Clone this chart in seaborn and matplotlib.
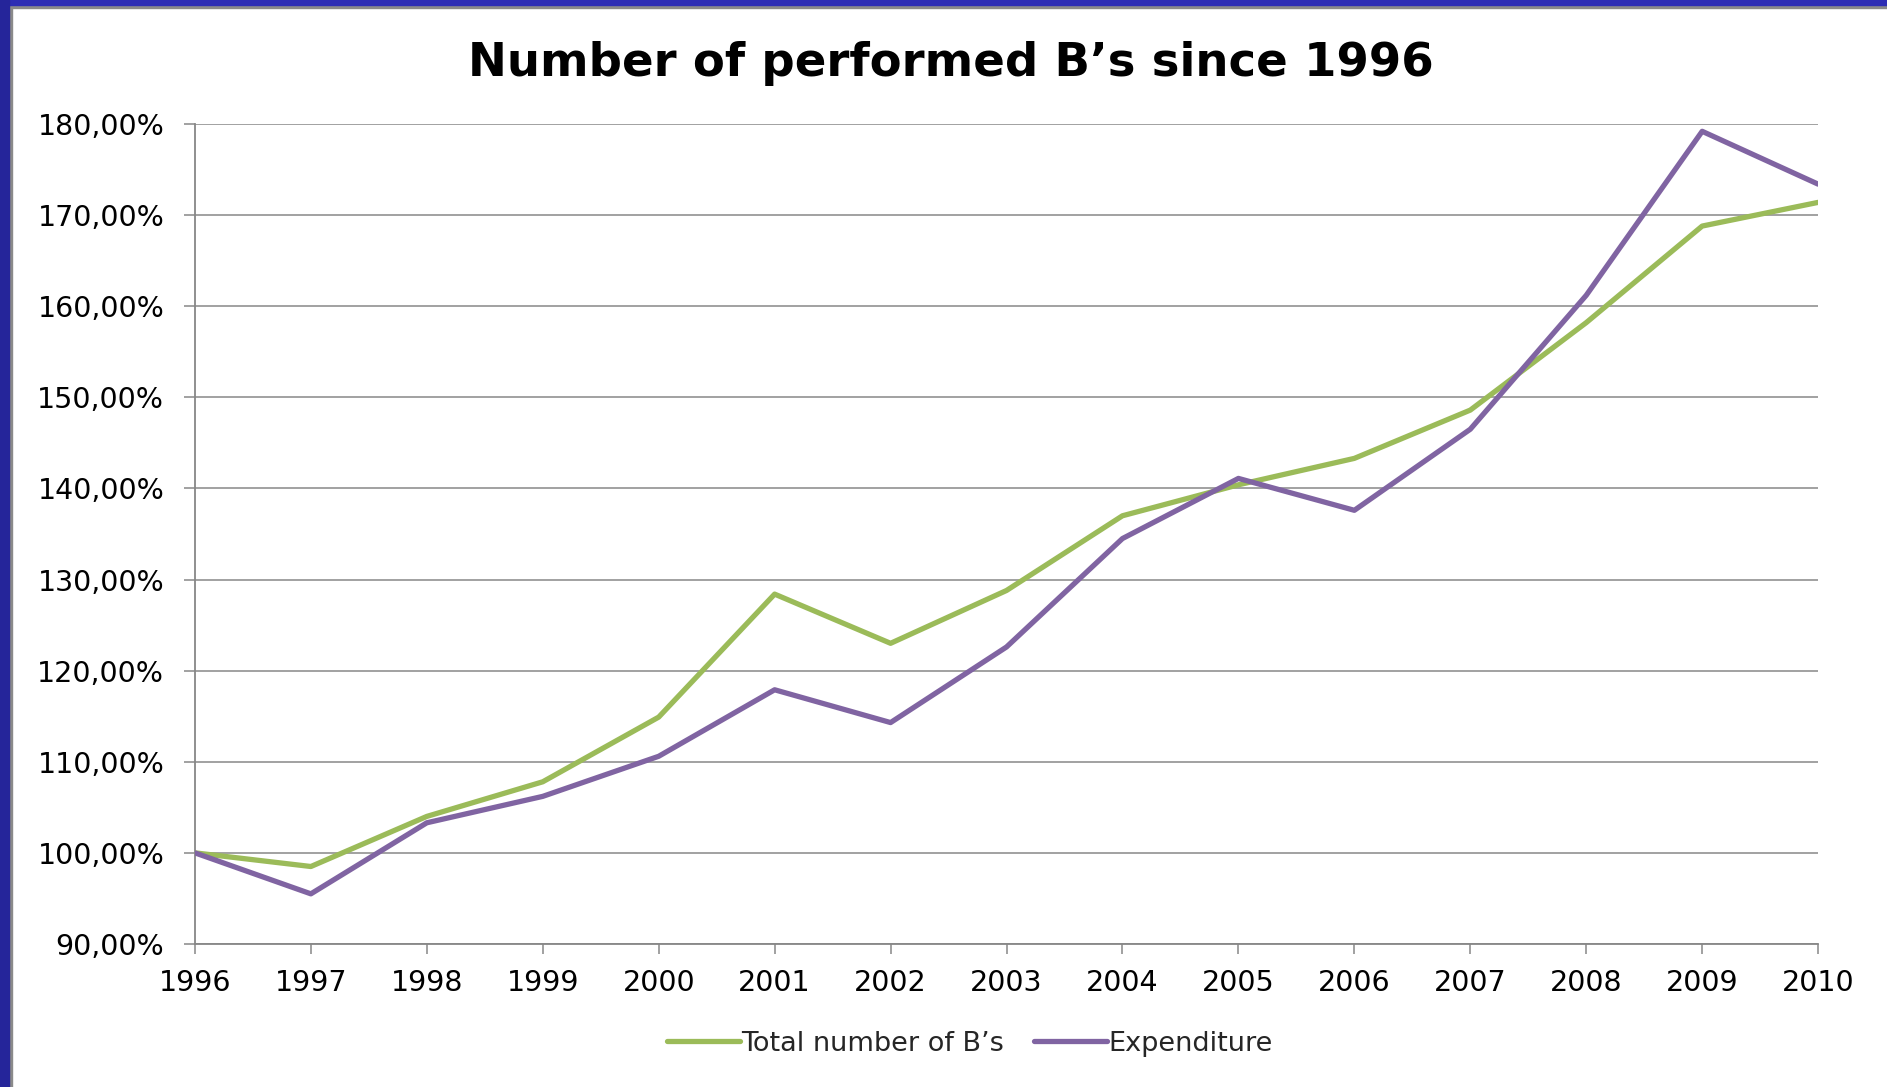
"""
plot.py - Number of performed B's since 1996 (index, 1996 = 100 %)
"""

import pandas as pd
import matplotlib
matplotlib.use("Agg")
import matplotlib.pyplot as plt
import matplotlib.patches as mpatches
from matplotlib.ticker import FuncFormatter
import seaborn as sns

# ── Data ───────────────────────────────────────────────────────────────────────
YEARS = list(range(1996, 2011))
TOTAL_BS = [100.0, 98.5, 104.0, 107.8, 114.9, 128.4, 123.0, 128.8,
            137.0, 140.4, 143.3, 148.6, 158.2, 168.8, 171.4]
EXPENDITURE = [100.0, 95.5, 103.3, 106.2, 110.6, 117.9, 114.3, 122.6,
               134.5, 141.1, 137.6, 146.5, 161.2, 179.2, 173.4]
SERIES = ["Total number of B\u2019s", "Expenditure"]
TITLE = "Number of performed B\u2019s since 1996"

# ── Style ──────────────────────────────────────────────────────────────────────
GREEN = "#9bbb59"
PURPLE = "#8064a2"
GRID = "#878787"
BORDER_BLUE = "#2d2db4"
LW = 3.8

sns.set_style("white")
plt.rcParams["font.family"] = ["DejaVu Sans"]

df = pd.DataFrame({
    "year": YEARS * 2,
    "value": TOTAL_BS + EXPENDITURE,
    "series": [SERIES[0]] * len(YEARS) + [SERIES[1]] * len(YEARS),
})

fig = plt.figure(figsize=(18.87, 10.87), dpi=100, facecolor="white")
ax = fig.add_axes([0.1033, 0.1316, 0.8602, 0.7543])

sns.lineplot(data=df, x="year", y="value", hue="series",
             palette={SERIES[0]: GREEN, SERIES[1]: PURPLE},
             linewidth=LW, ax=ax, legend=False, zorder=3)

ax.set_xlim(1996, 2010)
ax.set_ylim(90, 180)
ax.set_xticks(YEARS)
ax.set_yticks(range(90, 181, 10))
ax.yaxis.set_major_formatter(FuncFormatter(lambda v, _: f"{v:.2f}%".replace(".", ",")))
ax.set_xlabel("")
ax.set_ylabel("")

ax.grid(axis="y", color=GRID, linewidth=1.1, zorder=0)
ax.grid(axis="x", visible=False)
for side in ["top", "right"]:
    ax.spines[side].set_visible(False)
for side in ["left", "bottom"]:
    ax.spines[side].set_color(GRID)
    ax.spines[side].set_linewidth(1.3)

ax.tick_params(axis="y", length=8, width=1.1, color=GRID, pad=14,
               labelsize=20.5, labelcolor="black", left=True)
ax.tick_params(axis="x", length=7, width=1.1, color=GRID, pad=11,
               labelsize=20.5, labelcolor="black", bottom=True)

fig.text(0.504, 0.942, TITLE, ha="center", va="center",
         fontsize=33.6, fontweight="bold", color="black")

# legend below the plot
handles = [plt.Line2D([], [], color=GREEN, linewidth=LW, label=SERIES[0]),
           plt.Line2D([], [], color=PURPLE, linewidth=LW, label=SERIES[1])]
fig.legend(handles=handles, loc="center", bbox_to_anchor=(0.514, 0.040),
           ncol=2, frameon=False, handlelength=2.7, handletextpad=0.05,
           columnspacing=1.1, prop={"size": 19.5})

# slide border (blue band with grey edge on top and left)
W, H = 1887, 1087
fig.patches.append(mpatches.Rectangle((0, 1 - 5 / H), 1, 5 / H, transform=fig.transFigure,
                                      color=BORDER_BLUE, zorder=10))
fig.patches.append(mpatches.Rectangle((0, 1 - 8 / H), 1, 3 / H, transform=fig.transFigure,
                                      color="#8a8a8a", zorder=9))
fig.patches.append(mpatches.Rectangle((0, 0), 9 / W, 1, transform=fig.transFigure,
                                      color="#25259a", zorder=11))
fig.patches.append(mpatches.Rectangle((9 / W, 0), 3 / W, 1 - 5 / H, transform=fig.transFigure,
                                      color="#8a8a8a", zorder=9))

fig.savefig("out.png", dpi=100, facecolor="white")
